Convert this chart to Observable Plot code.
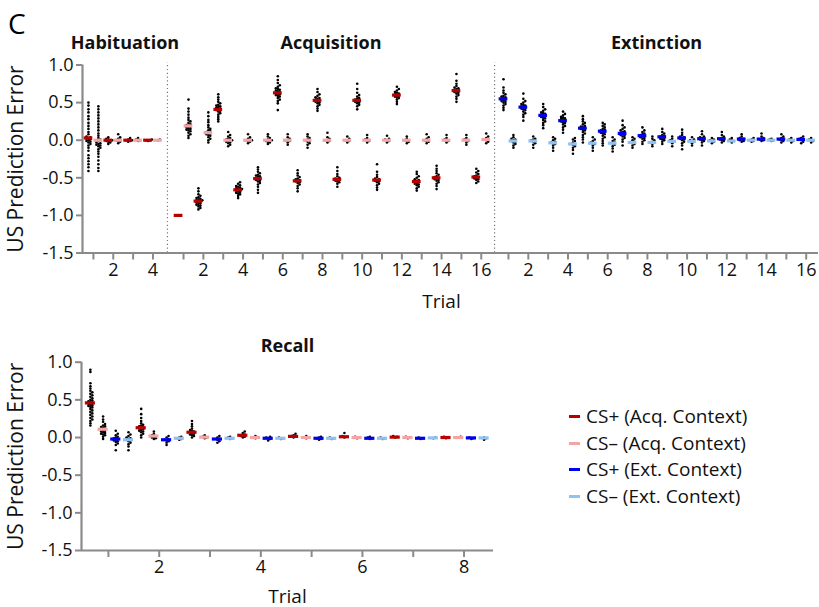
<!DOCTYPE html>
<html><head><meta charset="utf-8">
<script src="https://cdn.jsdelivr.net/npm/d3@7"></script>
<script src="https://cdn.jsdelivr.net/npm/@observablehq/plot@0.6"></script>
<style>
body{margin:0;background:#fff;font-family:"Open Sans",sans-serif;}
#wrap{position:relative;width:819px;height:607px;overflow:hidden;background:#fff;}
#wrap svg{position:absolute;left:0;}
#panel{position:absolute;left:8px;top:4px;font-size:28px;color:#000;}
#legend{position:absolute;left:569px;top:403px;font-size:19px;color:#111;}
#legend .row{height:26.7px;line-height:26.7px;white-space:nowrap;display:flex;align-items:center;}
#legend .sw{display:inline-block;width:11px;height:3px;margin-right:6px;}
</style></head><body>
<div id="wrap"><div id="panel">C</div><div id="legend"></div></div>
<script>
// ================= DATA =================
const trials16 = [1,2,3,4,5,6,7,8,9,10,11,12,13,14,15,16];
const habTrials = [1,2,3,4];
const recallTrials = [1,2,3,4,5,6,7,8];
const phaseTitles = ["Habituation","Acquisition","Extinction"];
const legendLabels = ["CS+ (Acq. Context)","CS\u2013 (Acq. Context)","CS+ (Ext. Context)","CS\u2013 (Ext. Context)"];
const yTicks = [-1.5,-1.0,-0.5,0.0,0.5,1.0];

// Habituation
const habCSplusMean = [0.03, 0.0, 0.0, 0.0];
const habCSminusMean = [0.0, 0.0, 0.0, 0.0];
const habCSplusDots = [
  [0.5,0.46,0.41,0.37,0.32,0.28,0.23,0.19,0.15,0.11,0.08,0.05,0.04,0.03,0.02,0.01,0.0,-0.01,-0.02,-0.03,-0.05,-0.07,-0.1,-0.14,-0.2,-0.24,-0.28,-0.32,-0.36,-0.41],
  [0.04,0.02,0.01,0.0,0.0,-0.01,-0.02,-0.03,-0.05],
  [0.03,0.01,0.0,0.0,-0.01,-0.02],
  [0.01,0.0,0.0,-0.01]
];
const habCSminusDots = [
  [0.45,0.41,0.37,0.33,0.29,0.25,0.21,0.17,0.13,0.09,0.06,0.03,0.01,-0.01,-0.03,-0.04,-0.05,-0.06,-0.07,-0.08,-0.1,-0.12,-0.15,-0.18,-0.22,-0.27,-0.32,-0.37,-0.41],
  [0.08,0.04,0.02,0.01,0.0,-0.01,-0.02,-0.04],
  [0.03,0.01,0.0,-0.01],
  [0.01,0.0]
];

// Acquisition
const acqCSplusMean = [-1.0,-0.81,0.41,-0.66,-0.51,0.63,-0.54,0.53,-0.52,0.53,-0.53,0.60,-0.55,-0.50,0.66,-0.49];
const acqCSminusMean = [0.19,0.10,0.0,0.0,0.0,0.0,0.0,0.0,0.0,0.0,0.0,0.0,0.0,0.0,0.0,0.01];
const acqCSplusDots = [
  [-1.0,-1.0,-1.0],
  [-0.64,-0.68,-0.72,-0.74,-0.76,-0.77,-0.78,-0.79,-0.8,-0.8,-0.81,-0.82,-0.83,-0.84,-0.85,-0.86,-0.87,-0.88,-0.9,-0.92],
  [0.61,0.57,0.54,0.51,0.49,0.47,0.46,0.45,0.44,0.43,0.42,0.41,0.4,0.39,0.38,0.36,0.34,0.31,0.28,0.25],
  [-0.56,-0.58,-0.6,-0.61,-0.62,-0.63,-0.64,-0.65,-0.65,-0.66,-0.67,-0.68,-0.69,-0.7,-0.71,-0.72,-0.74,-0.77],
  [-0.36,-0.39,-0.42,-0.44,-0.46,-0.47,-0.48,-0.49,-0.5,-0.51,-0.52,-0.53,-0.54,-0.55,-0.57,-0.59,-0.62,-0.66,-0.7],
  [0.85,0.8,0.76,0.73,0.71,0.69,0.68,0.67,0.66,0.65,0.64,0.63,0.62,0.61,0.6,0.59,0.58,0.56,0.54,0.52,0.49,0.4],
  [-0.4,-0.44,-0.47,-0.49,-0.51,-0.52,-0.53,-0.54,-0.55,-0.56,-0.57,-0.59,-0.61,-0.64,-0.68],
  [0.68,0.64,0.61,0.59,0.57,0.56,0.55,0.54,0.53,0.52,0.51,0.5,0.49,0.47,0.45,0.42,0.39],
  [-0.36,-0.41,-0.45,-0.48,-0.5,-0.51,-0.52,-0.53,-0.54,-0.55,-0.56,-0.58,-0.62],
  [0.75,0.68,0.63,0.6,0.58,0.56,0.55,0.54,0.53,0.52,0.51,0.5,0.49,0.47,0.45,0.41],
  [-0.32,-0.42,-0.46,-0.49,-0.51,-0.52,-0.53,-0.54,-0.55,-0.56,-0.58,-0.6,-0.63,-0.66],
  [0.71,0.68,0.66,0.64,0.63,0.62,0.61,0.6,0.59,0.58,0.57,0.56,0.54,0.51,0.48],
  [-0.42,-0.45,-0.48,-0.5,-0.52,-0.53,-0.54,-0.55,-0.56,-0.57,-0.58,-0.59,-0.6,-0.62,-0.64,-0.67],
  [-0.34,-0.38,-0.41,-0.44,-0.46,-0.48,-0.49,-0.5,-0.51,-0.52,-0.53,-0.54,-0.56,-0.58,-0.61,-0.65],
  [0.88,0.79,0.75,0.72,0.7,0.69,0.68,0.67,0.66,0.65,0.64,0.63,0.62,0.6,0.58,0.55,0.51],
  [-0.38,-0.41,-0.43,-0.45,-0.47,-0.48,-0.49,-0.5,-0.51,-0.52,-0.53,-0.55,-0.57]
];
const acqCSminusDots = [
  [0.54,0.42,0.38,0.34,0.3,0.27,0.25,0.23,0.21,0.2,0.19,0.18,0.17,0.16,0.15,0.14,0.13,0.12,0.1,0.08,0.06,0.03],
  [0.37,0.32,0.27,0.24,0.2,0.17,0.15,0.13,0.12,0.11,0.1,0.09,0.08,0.07,0.06,0.04,0.02,0.0,-0.03],
  [0.11,0.07,0.05,0.03,0.02,0.01,0.0,0.0,-0.01,-0.02,-0.03,-0.04,-0.06,-0.08],
  [0.08,0.04,0.02,0.01,0.0,0.0,-0.01,-0.02,-0.04],
  [0.08,0.05,0.03,0.01,0.0,0.0,-0.01,-0.02,-0.03,-0.05],
  [0.08,0.04,0.02,0.0,0.0,-0.01,-0.03,-0.06],
  [0.08,0.05,0.03,0.01,0.0,-0.01,-0.02,-0.04,-0.06,-0.1],
  [0.1,0.04,0.02,0.0,0.0,-0.01,-0.03],
  [0.05,0.02,0.0,0.0,-0.01,-0.03],
  [0.07,0.03,0.01,0.0,-0.01,-0.03],
  [0.06,0.02,0.01,0.0,-0.01,-0.03],
  [0.05,0.02,0.0,-0.01,-0.02,-0.04],
  [0.08,0.04,0.02,0.0,-0.01,-0.02,-0.04],
  [0.07,0.03,0.01,0.0,-0.01,-0.03],
  [0.07,0.03,0.01,0.0,-0.01,-0.03,-0.06],
  [0.09,0.05,0.03,0.01,0.0,-0.02,-0.04]
];

// Extinction
const extCSplusMean = [0.55,0.44,0.33,0.26,0.16,0.12,0.09,0.06,0.045,0.03,0.02,0.02,0.015,0.015,0.015,0.01];
const extCSminusMean = [-0.01,-0.01,-0.035,-0.05,-0.04,-0.04,-0.03,-0.03,-0.015,-0.015,-0.01,-0.01,0.0,0.0,0.0,0.0];
const extCSplusDots = [
  [0.81,0.7,0.66,0.63,0.61,0.59,0.58,0.57,0.56,0.55,0.54,0.53,0.52,0.51,0.5,0.48,0.46,0.43,0.4],
  [0.62,0.55,0.52,0.5,0.48,0.47,0.46,0.45,0.44,0.43,0.42,0.41,0.4,0.38,0.36,0.34,0.31,0.26],
  [0.48,0.44,0.41,0.39,0.37,0.36,0.35,0.34,0.33,0.32,0.31,0.3,0.29,0.27,0.25,0.23,0.2,0.16],
  [0.38,0.35,0.33,0.31,0.3,0.29,0.28,0.27,0.26,0.25,0.24,0.23,0.21,0.19,0.17,0.14,0.1],
  [0.32,0.28,0.25,0.23,0.21,0.19,0.18,0.17,0.16,0.15,0.14,0.13,0.11,0.09,0.07,0.04,0.01,-0.03],
  [0.23,0.21,0.19,0.17,0.15,0.14,0.13,0.12,0.11,0.1,0.09,0.08,0.06,0.04,0.02,-0.01,-0.04,-0.07],
  [0.26,0.2,0.17,0.15,0.13,0.12,0.11,0.1,0.09,0.08,0.07,0.06,0.05,0.03,0.01,-0.02,-0.07],
  [0.17,0.13,0.11,0.09,0.08,0.07,0.06,0.05,0.04,0.03,0.02,0.0,-0.02,-0.05],
  [0.15,0.11,0.09,0.07,0.06,0.05,0.04,0.03,0.02,0.01,0.0,-0.02,-0.05],
  [0.14,0.1,0.07,0.05,0.04,0.03,0.02,0.01,0.0,-0.02,-0.04,-0.07,-0.12],
  [0.12,0.08,0.05,0.04,0.03,0.02,0.01,0.0,-0.01,-0.03,-0.07],
  [0.11,0.07,0.05,0.03,0.02,0.01,0.0,-0.01,-0.03],
  [0.08,0.05,0.03,0.02,0.01,0.0,-0.01,-0.02],
  [0.09,0.05,0.03,0.02,0.01,0.0,-0.01],
  [0.08,0.05,0.03,0.02,0.01,0.0,-0.01,-0.03],
  [0.05,0.03,0.02,0.01,0.0,-0.02,-0.04]
];
const extCSminusDots = [
  [0.07,0.04,0.02,0.01,0.0,-0.01,-0.02,-0.03,-0.05,-0.07,-0.1],
  [0.05,0.02,0.01,0.0,-0.01,-0.02,-0.04,-0.06,-0.1],
  [0.04,0.02,0.0,-0.02,-0.03,-0.04,-0.05,-0.07,-0.1,-0.14],
  [0.03,0.01,-0.01,-0.03,-0.05,-0.06,-0.08,-0.1,-0.13,-0.18],
  [0.04,0.01,-0.01,-0.03,-0.04,-0.05,-0.07,-0.1,-0.14],
  [0.04,0.01,-0.01,-0.03,-0.04,-0.06,-0.08,-0.11,-0.15],
  [0.04,0.02,0.0,-0.02,-0.03,-0.05,-0.07,-0.1],
  [0.05,0.02,0.0,-0.02,-0.03,-0.05,-0.08],
  [0.05,0.02,0.0,-0.01,-0.02,-0.04,-0.08],
  [0.04,0.01,0.0,-0.01,-0.02,-0.04,-0.07],
  [0.03,0.01,0.0,-0.01,-0.02,-0.04],
  [0.03,0.01,0.0,-0.01,-0.03],
  [0.03,0.01,0.0,-0.01,-0.02],
  [0.02,0.01,0.0,-0.01],
  [0.03,0.01,0.0,-0.01,-0.03],
  [0.03,0.01,0.0,-0.01,-0.03]
];

// Recall (4 series x 8 trials)
const recAcqPlusMean  = [0.46,0.13,0.07,0.03,0.015,0.01,0.005,0.0];
const recAcqMinusMean = [0.11,0.02,0.005,0.0,0.0,0.0,0.0,0.0];
const recExtPlusMean  = [-0.02,-0.03,-0.02,-0.01,-0.01,-0.01,-0.01,-0.005];
const recExtMinusMean = [-0.03,-0.01,-0.01,-0.01,-0.01,-0.01,-0.005,-0.005];
const recAcqPlusDots = [
  [0.9,0.87,0.72,0.68,0.65,0.62,0.6,0.58,0.56,0.54,0.52,0.5,0.49,0.48,0.47,0.46,0.45,0.44,0.43,0.42,0.41,0.4,0.38,0.36,0.34,0.32,0.3,0.28,0.26,0.24,0.22,0.19,0.16],
  [0.38,0.31,0.26,0.22,0.19,0.17,0.16,0.15,0.14,0.13,0.12,0.11,0.1,0.09,0.08,0.07,0.05,0.03,0.0],
  [0.22,0.18,0.15,0.12,0.1,0.09,0.08,0.07,0.06,0.05,0.04,0.03,0.02,0.0],
  [0.08,0.06,0.04,0.03,0.02,0.01,0.0],
  [0.05,0.03,0.02,0.01,0.0],
  [0.06,0.02,0.01,0.0],
  [0.02,0.01,0.0],
  [0.01,0.0,-0.01]
];
const recAcqMinusDots = [
  [0.28,0.24,0.21,0.18,0.16,0.15,0.14,0.13,0.12,0.11,0.1,0.09,0.08,0.07,0.06,0.05,0.04,0.03,0.01,-0.02],
  [0.08,0.05,0.03,0.02,0.01,0.0,-0.01,-0.02],
  [0.03,0.01,0.0,-0.01],
  [0.02,0.0,-0.01],
  [0.02,0.0,-0.01],
  [0.01,0.0,-0.01],
  [0.01,0.0,-0.01],
  [0.01,0.0]
];
const recExtPlusDots = [
  [0.09,0.05,0.03,0.01,0.0,-0.01,-0.02,-0.03,-0.04,-0.05,-0.06,-0.08,-0.1,-0.17],
  [0.02,0.0,-0.02,-0.03,-0.04,-0.05,-0.07,-0.1],
  [0.02,0.0,-0.02,-0.03,-0.05,-0.07],
  [0.01,0.0,-0.01,-0.02,-0.04],
  [0.01,0.0,-0.01,-0.02,-0.03],
  [0.01,0.0,-0.01,-0.02],
  [0.0,-0.01,-0.02],
  [0.0,-0.01,-0.02]
];
const recExtMinusDots = [
  [0.07,0.04,0.02,0.0,-0.01,-0.02,-0.03,-0.04,-0.05,-0.07,-0.09,-0.12,-0.17],
  [0.01,0.0,-0.01,-0.02,-0.03],
  [0.01,0.0,-0.01,-0.02],
  [0.0,-0.01,-0.02],
  [0.0,-0.01,-0.02],
  [0.0,-0.01,-0.02],
  [0.0,-0.01],
  [0.0,-0.01,-0.03]
];

// ================= STYLE / LAYOUT =================
const FONT = "'Open Sans', sans-serif";
const AXIS = "#8a8a8a";
const COL = {acqPlus:"#b80000", acqMinus:"#f4a4a4", extPlus:"#0000f0", extMinus:"#8fc2f2"};
const DOT_R = 1.3, DOT_D = 1.95;
const TICK_FS = 18;

function swarmOffsets(values, pxY, diam) {
  const order = values.map((v, i) => i).sort((a, b) => values[a] - values[b]);
  const placed = [], out = new Array(values.length).fill(0);
  for (const i of order) {
    const y = values[i] * pxY;
    let x = 0;
    for (let s = 0; s < 80; s++) {
      const c = s === 0 ? 0 : (s % 2 ? 1 : -1) * Math.ceil(s / 2) * diam * 0.5;
      if (placed.every(p => (p.x - c) ** 2 + (p.y - y) ** 2 >= diam * diam * 0.92)) { x = c; break; }
    }
    placed.push({x, y}); out[i] = x;
  }
  return out;
}

function addSeries(store, trials, posOf, means, dots, color, half, pxX, pxY) {
  const meanRows = [];
  trials.forEach((t, i) => {
    const p = posOf(t);
    meanRows.push({x1: p - half, x2: p + half, y: means[i]});
    const offs = swarmOffsets(dots[i], pxY, DOT_D);
    dots[i].forEach((v, j) => store.dots.push({x: p + offs[j] / pxX, y: v}));
  });
  store.means.push({rows: meanRows, color});
}

// ---------- TOP PANEL ----------
const T = {w: 819, h: 312, ml: 82, mr: 1, mt: 64.5, mb: 312 - 252.5};
const TOP_X = [0, 37.08];
const PHASE_OFFSET = [-0.45, 4.09, 20.46];
const PHASE_BOUNDS = [0, 4.28, 20.76, 37.08];
const SHIFT = 0.25;
const tpxX = (T.w - T.ml - T.mr) / (TOP_X[1] - TOP_X[0]);
const tpxY = (T.h - T.mt - T.mb) / 2.5;

const topStore = {dots: [], means: []};
addSeries(topStore, habTrials, t => PHASE_OFFSET[0] + t - SHIFT, habCSplusMean, habCSplusDots, COL.acqPlus, 0.22, tpxX, tpxY);
addSeries(topStore, habTrials, t => PHASE_OFFSET[0] + t + SHIFT, habCSminusMean, habCSminusDots, COL.acqMinus, 0.22, tpxX, tpxY);
addSeries(topStore, trials16, t => PHASE_OFFSET[1] + t - SHIFT, acqCSplusMean, acqCSplusDots, COL.acqPlus, 0.22, tpxX, tpxY);
addSeries(topStore, trials16, t => PHASE_OFFSET[1] + t + SHIFT, acqCSminusMean, acqCSminusDots, COL.acqMinus, 0.22, tpxX, tpxY);
addSeries(topStore, trials16, t => PHASE_OFFSET[2] + t - SHIFT, extCSplusMean, extCSplusDots, COL.extPlus, 0.22, tpxX, tpxY);
addSeries(topStore, trials16, t => PHASE_OFFSET[2] + t + SHIFT, extCSminusMean, extCSminusDots, COL.extMinus, 0.22, tpxX, tpxY);

const topTicks = [], topTickLabel = new Map();
[habTrials, trials16, trials16].forEach((tr, k) => tr.forEach(t => {
  const p = PHASE_OFFSET[k] + t; topTicks.push(p);
  topTickLabel.set(p, t % 2 === 0 ? String(t) : "");
}));
const titleRows = phaseTitles.map((s, k) => ({s, x: (PHASE_BOUNDS[k] + PHASE_BOUNDS[k + 1]) / 2}));

const topPlot = Plot.plot({
  width: T.w, height: T.h, marginLeft: T.ml, marginRight: T.mr, marginTop: T.mt, marginBottom: T.mb,
  style: {fontFamily: FONT, fontSize: TICK_FS + "px", overflow: "visible", background: "transparent"},
  x: {domain: TOP_X, axis: null},
  y: {domain: [-1.5, 1.0], axis: null},
  marks: [
    Plot.ruleX(PHASE_BOUNDS.slice(1, 3), {y1: -1.5, y2: 1.03, stroke: "#777", strokeWidth: 1.2, strokeDasharray: "1.2,2.6"}),
    Plot.dot(topStore.dots, {x: "x", y: "y", r: DOT_R, fill: "#000", stroke: null}),
    ...topStore.means.map(m => Plot.ruleY(m.rows, {x1: "x1", x2: "x2", y: "y", stroke: m.color, strokeWidth: 3.2})),
    Plot.axisY({ticks: yTicks, tickFormat: d => d.toFixed(1), tickSize: 6, tickPadding: 3, stroke: AXIS, strokeWidth: 2, fill: "#111", fontSize: TICK_FS, label: null}),
    Plot.axisX({ticks: topTicks, tickFormat: d => topTickLabel.get(d), tickSize: 7, tickPadding: 3, stroke: AXIS, strokeWidth: 2, fill: "#111", fontSize: TICK_FS, label: null}),
    Plot.ruleX([TOP_X[0]], {y1: -1.5, y2: 1.0, stroke: AXIS, strokeWidth: 2.2}),
    Plot.ruleY([-1.5], {x1: TOP_X[0], x2: TOP_X[1], stroke: AXIS, strokeWidth: 2.2}),
    Plot.text(titleRows, {x: "x", text: "s", frameAnchor: "top", dy: -29, fontWeight: "bold", fontSize: 18, fill: "#111"}),
    Plot.text(["US Prediction Error"], {frameAnchor: "left", textAnchor: "middle", rotate: -90, dx: -66, fontSize: 21, fill: "#111"}),
    Plot.text(["Trial"], {frameAnchor: "bottom", dy: 55, dx: -9, fontSize: 19, fill: "#111"})
  ]
});
topPlot.style.top = "0px";

// ---------- RECALL PANEL ----------
const R = {top: 312, w: 819, h: 295, ml: 81, mr: 326, mt: 361.7 - 312, mb: 607 - 550};
const REC_X = [0.47, 8.58];
const REC_SHIFT = [-0.375, -0.125, 0.125, 0.375];
const rpxX = (R.w - R.ml - R.mr) / (REC_X[1] - REC_X[0]);
const rpxY = (R.h - R.mt - R.mb) / 2.5;
const recStore = {dots: [], means: []};
addSeries(recStore, recallTrials, t => t + 0.02 + REC_SHIFT[0], recAcqPlusMean, recAcqPlusDots, COL.acqPlus, 0.1, rpxX, rpxY);
addSeries(recStore, recallTrials, t => t + 0.02 + REC_SHIFT[1], recAcqMinusMean, recAcqMinusDots, COL.acqMinus, 0.1, rpxX, rpxY);
addSeries(recStore, recallTrials, t => t + 0.02 + REC_SHIFT[2], recExtPlusMean, recExtPlusDots, COL.extPlus, 0.1, rpxX, rpxY);
addSeries(recStore, recallTrials, t => t + 0.02 + REC_SHIFT[3], recExtMinusMean, recExtMinusDots, COL.extMinus, 0.1, rpxX, rpxY);

const recPlot = Plot.plot({
  width: R.w, height: R.h, marginLeft: R.ml, marginRight: R.mr, marginTop: R.mt, marginBottom: R.mb,
  style: {fontFamily: FONT, fontSize: TICK_FS + "px", overflow: "visible", background: "transparent"},
  x: {domain: REC_X, axis: null},
  y: {domain: [-1.5, 1.0], axis: null},
  marks: [
    Plot.dot(recStore.dots, {x: "x", y: "y", r: DOT_R, fill: "#000", stroke: null}),
    ...recStore.means.map(m => Plot.ruleY(m.rows, {x1: "x1", x2: "x2", y: "y", stroke: m.color, strokeWidth: 3.2})),
    Plot.axisY({ticks: yTicks, tickFormat: d => d.toFixed(1), tickSize: 6, tickPadding: 3, stroke: AXIS, strokeWidth: 2, fill: "#111", fontSize: TICK_FS, label: null}),
    Plot.axisX({ticks: recallTrials, tickFormat: t => t % 2 === 0 ? String(t) : "", tickSize: 7, tickPadding: 3, stroke: AXIS, strokeWidth: 2, fill: "#111", fontSize: TICK_FS, label: null}),
    Plot.ruleX([REC_X[0]], {y1: -1.5, y2: 1.0, stroke: AXIS, strokeWidth: 2.2}),
    Plot.ruleY([-1.5], {x1: REC_X[0], x2: REC_X[1], stroke: AXIS, strokeWidth: 2.2}),
    Plot.text(["Recall"], {frameAnchor: "top", dy: -23, fontWeight: "bold", fontSize: 18, fill: "#111"}),
    Plot.text(["US Prediction Error"], {frameAnchor: "left", textAnchor: "middle", rotate: -90, dx: -65, fontSize: 21, fill: "#111"}),
    Plot.text(["Trial"], {frameAnchor: "bottom", dy: 52, fontSize: 19, fill: "#111"})
  ]
});
recPlot.style.top = R.top + "px";

const wrap = document.getElementById("wrap");
wrap.appendChild(topPlot);
wrap.appendChild(recPlot);

// Legend
const legendColors = [COL.acqPlus, COL.acqMinus, COL.extPlus, COL.extMinus];
const leg = document.getElementById("legend");
legendLabels.forEach((s, i) => {
  const row = document.createElement("div"); row.className = "row";
  const sw = document.createElement("span"); sw.className = "sw"; sw.style.background = legendColors[i];
  row.appendChild(sw); row.appendChild(document.createTextNode(s));
  leg.appendChild(row);
});
</script>
</body></html>
